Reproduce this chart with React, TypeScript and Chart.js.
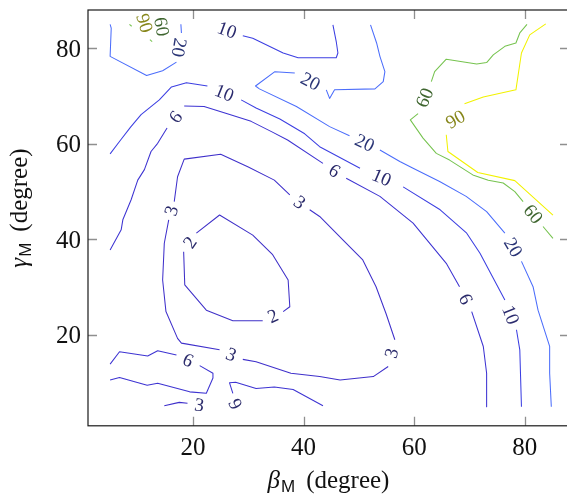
import React, { useEffect, useRef } from "react";
import { Chart, registerables } from "chart.js";

Chart.register(...registerables);

type Pt = [number, number];
// a point, or a label gap (null = angle follows the line, number = explicit angle in degrees)
type Entry = Pt | null | number;

const xRange = [1, 88];
const yRange = [1, 88];
const xTicks = [20, 40, 60, 80];
const yTicks = [20, 40, 60, 80];
const levels = [2, 3, 6, 10, 20, 60, 90];

const lineColors: Record<number, string> = {
  2: "#3f30c8",
  3: "#3f30cb",
  6: "#3d33d2",
  10: "#3c3fe2",
  20: "#4b6dfb",
  60: "#76c34f",
  90: "#f2f200",
};
const labelColors: Record<number, string> = {
  2: "#2b2b6b",
  3: "#2b2b6b",
  6: "#2b2b6b",
  10: "#2b2b6e",
  20: "#2a3576",
  60: "#3f6630",
  90: "#86861a",
};

// ---- contour lines (beta_M, gamma_M) ----
const contour2Loop: Entry[] = [
  [20.6, 41.3], [24.8, 45.1], [30.8, 40.9], [34.4, 36.8], [37.2, 31.5], [37.5, 25.9], [36.3, 24.9],
  null,
  [32.6, 23.0], [27.2, 23.0], [22.4, 25.2], [18.5, 30.5], [18.3, 37.4],
  null,
  [20.6, 41.3],
];

const contour3Loop: Entry[] = [
  [16.6, 47.9], [17.2, 53.1], [18.4, 56.8], [25.0, 57.8], [29.9, 55.2], [34.7, 52.4], [37.5, 49.3],
  null,
  [41.1, 46.2], [42.9, 44.8], [47.1, 39.9], [50.7, 35.7], [53.1, 30.1], [54.9, 24.5], [56.5, 19.0],
  null,
  [55.3, 13.4], [52.6, 11.3], [46.6, 10.6], [42.9, 11.3], [37.7, 12.0], [31.4, 14.4], [29.0, 14.9],
  null,
  [24.8, 16.9], [17.9, 18.3], [17.2, 19.3], [15.1, 24.9], [14.5, 31.5], [14.8, 39.2], [15.6, 44.1],
  null,
  [16.6, 47.9],
];

const contour3Bottom: Entry[] = [
  [14.8, 5.2], [17.5, 5.9], [19.0, 5.7],
  null,
  [23.3, 5.0],
];

const contour6Main: Entry[] = [
  [5.0, 37.8], [7.0, 42.0], [7.3, 44.1], [8.8, 48.3], [10.0, 52.4], [11.2, 54.6], [12.4, 58.4], [13.6, 60.1], [15.3, 63.3],
  null,
  [18.4, 67.9], [22.0, 67.8], [26.2, 66.3], [30.5, 64.7], [34.1, 62.6], [37.1, 60.8], [43.5, 55.9],
  null,
  [47.7, 52.8], [53.8, 49.0], [59.8, 43.4], [65.8, 35.0], [68.2, 30.1],
  null,
  [70.4, 24.9], [72.5, 17.6], [73.1, 12.0], [73.1, 5.0],
];

const contour6LowerLeft: Entry[] = [
  [5.0, 13.9], [6.7, 16.5], [11.8, 15.6], [13.6, 16.7], [17.0, 15.8],
  null,
  [21.2, 13.6], [23.6, 12.0], [23.6, 11.0], [22.4, 7.8], [19.4, 8.1], [13.6, 9.9], [11.7, 9.5], [6.7, 11.1], [5.0, 10.6],
];

const contour6Bottom: Entry[] = [
  [28.2, 3.3],
  -115,
  [27.2, 7.8], [26.6, 10.0], [27.7, 10.1], [31.4, 8.8], [34.7, 9.1], [38.1, 8.6], [43.5, 5.2],
];

const contour10Top: Entry[] = [
  [23.3, 85.0],
  null,
  [29.0, 82.6], [30.8, 82.1], [36.3, 79.0], [39.0, 78.0], [45.9, 78.0], [46.2, 79.0], [45.9, 81.4], [45.3, 84.9],
];

const contour10Main: Entry[] = [
  [5.0, 57.9], [6.9, 60.8], [8.7, 63.5], [10.6, 66.1], [13.9, 69.2], [16.1, 71.9], [18.8, 72.8], [22.6, 72.1],
  null,
  [28.7, 69.2], [31.4, 67.5], [35.7, 65.2], [40.2, 62.1], [42.9, 59.4], [50.2, 54.9],
  null,
  [58.0, 51.0], [64.7, 46.2], [69.5, 41.3], [71.9, 37.1], [76.4, 27.3],
  null,
  [78.5, 21.1], [79.1, 16.9], [79.4, 5.0],
];

const contour20TopLeft: Entry[] = [
  [17.8, 85.0], [17.9, 83.2],
  null,
  [17.0, 77.1], [14.5, 75.3], [11.6, 74.3], [5.0, 78.3], [5.2, 84.2], [5.0, 85.0],
];

const contour20Main: Entry[] = [
  [52.1, 84.9], [53.2, 81.1], [53.8, 78.3], [54.7, 75.1], [54.4, 73.0], [52.9, 71.5], [45.6, 71.3], [44.7, 69.5], [44.1, 71.3],
  null,
  [38.4, 74.8], [34.8, 75.1], [31.3, 72.1], [32.0, 71.5], [38.7, 67.8], [44.7, 63.6], [48.3, 61.7],
  null,
  [53.8, 58.7], [57.4, 56.3], [59.8, 54.9], [64.6, 52.1], [69.4, 49.0], [73.1, 45.8], [76.4, 41.3],
  null,
  [79.4, 35.4], [81.5, 30.1], [82.4, 25.2], [84.5, 17.6], [84.5, 12.0], [84.8, 5.0],
];

const contour60TopLeftA: Entry[] = [[8.5, 85.0], [8.9, 84.6]];
const contour60TopLeftB: Entry[] = [[12.2, 81.8], [12.6, 81.4]];
const contour60TopLeftLabel: Entry[] = [[14.0, 86.6], null, [14.6, 82.4]];
const contour90TopLeft: Entry[] = [[10.5, 88.0], null, [11.9, 82.5]];

const contour60Right: Entry[] = [
  [80.4, 85.0], [79.1, 83.2], [78.4, 81.1], [76.4, 80.4], [74.3, 78.6], [73.1, 77.0], [71.3, 76.7], [65.8, 77.7], [63.7, 75.1], [63.1, 73.0],
  null,
  [60.7, 66.3], [59.3, 65.0], [61.6, 61.2], [64.0, 58.0], [66.4, 56.6], [70.6, 53.5], [73.4, 52.4], [76.1, 51.8], [78.2, 50.0], [79.7, 47.9],
  null,
  [83.3, 42.7], [85.1, 40.2],
];

const contour90Right: Entry[] = [
  [83.8, 85.1], [80.9, 82.8], [79.4, 79.0], [78.4, 71.3], [72.5, 69.8], [69.1, 68.4],
  -30,
  [65.8, 61.9], [66.1, 58.4], [71.5, 54.0], [78.2, 52.3], [85.1, 45.1],
];

const pieces: { level: number; pts: Entry[] }[] = [
  { level: 2, pts: contour2Loop },
  { level: 3, pts: contour3Loop },
  { level: 3, pts: contour3Bottom },
  { level: 6, pts: contour6Main },
  { level: 6, pts: contour6LowerLeft },
  { level: 6, pts: contour6Bottom },
  { level: 10, pts: contour10Top },
  { level: 10, pts: contour10Main },
  { level: 20, pts: contour20TopLeft },
  { level: 20, pts: contour20Main },
  { level: 60, pts: contour60TopLeftA },
  { level: 60, pts: contour60TopLeftB },
  { level: 60, pts: contour60TopLeftLabel },
  { level: 90, pts: contour90TopLeft },
  { level: 60, pts: contour60Right },
  { level: 90, pts: contour90Right },
];

const SERIF = '"Liberation Serif", "Times New Roman", serif';
const SANS = '"Liberation Sans", "DejaVu Sans", sans-serif';

const decorPlugin = {
  id: "decor",
  afterDatasetsDraw(chart: any) {
    const { ctx, chartArea: a, scales } = chart;
    const xs = scales.x;
    const ys = scales.y;
    ctx.save();
    // contour labels
    ctx.font = "19px " + SERIF;
    ctx.textAlign = "center";
    ctx.textBaseline = "middle";
    pieces.forEach((p) => {
      p.pts.forEach((e, i) => {
        if (Array.isArray(e)) return;
        const pr = p.pts[i - 1] as Pt;
        const nx = p.pts[i + 1] as Pt;
        const x1 = xs.getPixelForValue(pr[0]);
        const y1 = ys.getPixelForValue(pr[1]);
        const x2 = xs.getPixelForValue(nx[0]);
        const y2 = ys.getPixelForValue(nx[1]);
        let ang: number;
        if (typeof e === "number") {
          ang = e;
        } else {
          ang = (Math.atan2(y2 - y1, x2 - x1) * 180) / Math.PI;
          if (ang > 102) ang -= 180;
          else if (ang <= -78) ang += 180;
        }
        ctx.save();
        ctx.translate((x1 + x2) / 2, (y1 + y2) / 2);
        ctx.rotate((ang * Math.PI) / 180);
        ctx.fillStyle = labelColors[p.level];
        ctx.fillText(String(p.level), 0, 1);
        ctx.restore();
      });
    });

    // inner ticks
    const tl = 9;
    ctx.strokeStyle = "#8f8f8f";
    ctx.lineWidth = 1.3;
    ctx.beginPath();
    xTicks.forEach((v) => {
      const px = Math.round(xs.getPixelForValue(v)) + 0.5;
      ctx.moveTo(px, a.bottom);
      ctx.lineTo(px, a.bottom - tl);
      ctx.moveTo(px, a.top);
      ctx.lineTo(px, a.top + tl);
    });
    yTicks.forEach((v) => {
      const py = Math.round(ys.getPixelForValue(v)) + 0.5;
      ctx.moveTo(a.left, py);
      ctx.lineTo(a.left + tl, py);
      ctx.moveTo(a.right, py);
      ctx.lineTo(a.right - tl, py);
    });
    ctx.stroke();

    // frame
    ctx.strokeStyle = "#1a1a1a";
    ctx.lineWidth = 1.2;
    ctx.strokeRect(a.left, a.top, a.right - a.left, a.bottom - a.top);

    // tick labels
    ctx.fillStyle = "#111";
    ctx.font = "25px " + SERIF;
    ctx.textBaseline = "alphabetic";
    ctx.textAlign = "center";
    xTicks.forEach((v) => {
      ctx.fillText(String(v), xs.getPixelForValue(v), a.bottom + 29);
    });
    ctx.textAlign = "right";
    yTicks.forEach((v) => {
      ctx.fillText(String(v), a.left - 7, ys.getPixelForValue(v) + 8.5);
    });

    // axis titles
    const drawTitle = (sym: string, cx: number, cy: number) => {
      const symFont = "italic 25px " + SERIF;
      const subFont = "17px " + SANS;
      const restFont = "25px " + SERIF;
      const rest = "(degree)";
      ctx.font = symFont;
      const w1 = ctx.measureText(sym).width;
      ctx.font = subFont;
      const w2 = ctx.measureText("M").width;
      ctx.font = restFont;
      const w3 = ctx.measureText(rest).width;
      const gap = 11;
      const total = w1 + 1 + w2 + gap + w3;
      let x = cx - total / 2;
      ctx.textAlign = "left";
      ctx.textBaseline = "alphabetic";
      ctx.font = symFont;
      ctx.fillText(sym, x, cy);
      x += w1 + 1;
      ctx.font = subFont;
      ctx.fillText("M", x, cy + 4);
      x += w2 + gap;
      ctx.font = restFont;
      ctx.fillText(rest, x, cy);
    };
    ctx.fillStyle = "#111";
    drawTitle("\u03B2", (a.left + a.right) / 2, a.bottom + 62);
    ctx.save();
    ctx.translate(27, 208);
    ctx.rotate(-Math.PI / 2);
    drawTitle("\u03B3", 0, 0);
    ctx.restore();

    ctx.restore();
  },
};

export default function App() {
  const canvasRef = useRef<HTMLCanvasElement | null>(null);

  useEffect(() => {
    const canvas = canvasRef.current;
    if (!canvas) return;
    const datasets = pieces.map((p) => ({
      label: String(p.level),
      data: p.pts.map((e, i) => {
        if (Array.isArray(e)) return { x: e[0], y: e[1] };
        const prev = p.pts[i - 1] as Pt;
        return { x: prev[0], y: null as any };
      }),
      borderColor: lineColors[p.level],
      backgroundColor: lineColors[p.level],
      borderWidth: 1.05,
      pointRadius: 0,
      pointHoverRadius: 0,
      fill: false,
      tension: 0,
      spanGaps: false,
      borderJoinStyle: "round" as const,
    }));

    const chart = new Chart(canvas, {
      type: "line",
      data: { datasets },
      options: {
        responsive: false,
        animation: false,
        devicePixelRatio: 1,
        events: [],
        layout: { padding: { left: 88, right: 31, top: 10, bottom: 68.2 } },
        plugins: {
          legend: { display: false },
          tooltip: { enabled: false },
        },
        scales: {
          x: { type: "linear", min: xRange[0], max: xRange[1], display: false },
          y: { type: "linear", min: yRange[0], max: yRange[1], display: false },
        },
      },
      plugins: [decorPlugin],
    });
    return () => chart.destroy();
  }, []);

  return (
    <div
      style={{
        position: "fixed",
        left: 0,
        top: 0,
        width: 567,
        height: 494,
        overflow: "hidden",
        background: "#fff",
      }}
    >
      <canvas
        ref={canvasRef}
        width={600}
        height={494}
        style={{ display: "block", width: 600, height: 494 }}
      />
    </div>
  );
}
